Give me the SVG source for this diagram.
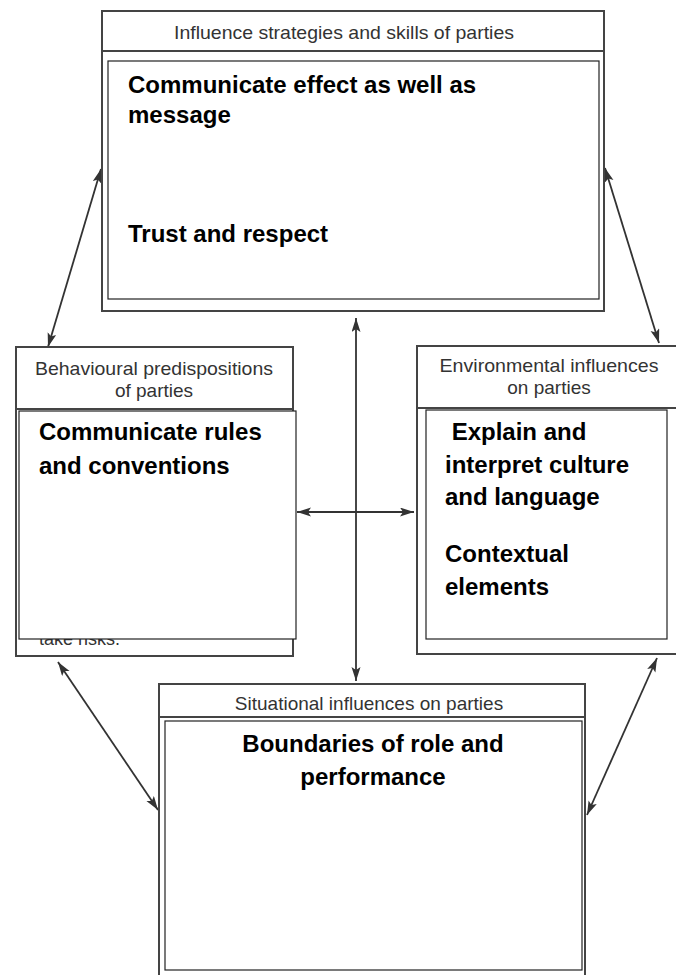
<svg xmlns="http://www.w3.org/2000/svg" width="676" height="975" viewBox="0 0 676 975">
<style>
.outer{fill:#fff;stroke:#444;stroke-width:2}
.sep{stroke:#444;stroke-width:2;fill:none}
.inner{fill:#fff;stroke:#222;stroke-width:1.2}
.title{font-family:"Liberation Sans",Arial,sans-serif;font-size:19px;fill:#333;text-anchor:middle}
.scan{font-family:"Liberation Sans",Arial,sans-serif;font-size:18px;fill:#333}
.body{font-family:"Liberation Sans",Arial,sans-serif;font-size:24px;font-weight:bold;fill:#000}
.conn{stroke:#333;stroke-width:1.8;fill:none;marker-start:url(#ah);marker-end:url(#ah)}
</style>
<defs>
<marker id="ah" markerUnits="userSpaceOnUse" markerWidth="16" markerHeight="10" refX="14" refY="4.5" orient="auto-start-reverse">
<path d="M0,0 L14,4.5 L0,9 L3,4.5 z" fill="#333"/>
</marker>
</defs>
<rect width="676" height="975" fill="#fff"/>

<g id="connectors">
<line class="conn" x1="356" y1="318" x2="356" y2="681"/>
<line class="conn" x1="297" y1="512" x2="414" y2="512"/>
<line class="conn" x1="101" y1="169" x2="48" y2="347"/>
<line class="conn" x1="605" y1="168" x2="659" y2="343"/>
<line class="conn" x1="58" y1="662" x2="158" y2="810"/>
<line class="conn" x1="657" y1="658" x2="587" y2="815"/>
</g>

<g id="node-influence">
<rect class="outer" x="102" y="11" width="502" height="300"/>
<line class="sep" x1="102" y1="51" x2="604" y2="51"/>
<text class="title" x="344" y="39" textLength="340" lengthAdjust="spacingAndGlyphs">Influence strategies and skills of parties</text>
<rect class="inner" x="108" y="61" width="491" height="238"/>
<text class="body" x="128" y="93">Communicate effect as well as</text>
<text class="body" x="128" y="123">message</text>
<text class="body" x="128" y="242">Trust and respect</text>
</g>

<g id="node-behavioural">
<rect class="outer" x="16" y="347" width="277" height="309"/>
<line class="sep" x1="16" y1="409" x2="293" y2="409"/>
<text class="title" x="154" y="375" textLength="238" lengthAdjust="spacingAndGlyphs">Behavioural predispositions</text>
<text class="title" x="154" y="397">of parties</text>
<text class="scan" x="39" y="645">take risks.</text>
<rect class="inner" x="19" y="411" width="277" height="228"/>
<text class="body" x="39" y="440">Communicate rules</text>
<text class="body" x="39" y="474">and conventions</text>
</g>

<g id="node-environmental">
<rect class="outer" x="417" y="346" width="270" height="308"/>
<line class="sep" x1="417" y1="408" x2="687" y2="408"/>
<text class="title" x="549" y="372" textLength="219" lengthAdjust="spacingAndGlyphs">Environmental influences</text>
<text class="title" x="549" y="394">on parties</text>
<rect class="inner" x="426" y="410" width="241" height="229"/>
<text class="body" x="445" y="440" xml:space="preserve"> Explain and</text>
<text class="body" x="445" y="473">interpret culture</text>
<text class="body" x="445" y="505">and language</text>
<text class="body" x="445" y="562">Contextual</text>
<text class="body" x="445" y="595">elements</text>
</g>

<g id="node-situational">
<rect class="outer" x="159" y="684" width="426" height="300"/>
<line class="sep" x1="159" y1="717" x2="585" y2="717"/>
<text class="title" x="369" y="710">Situational influences on parties</text>
<rect class="inner" x="165" y="721" width="417" height="249"/>
<text class="body" x="373" y="752" text-anchor="middle">Boundaries of role and</text>
<text class="body" x="373" y="785" text-anchor="middle">performance</text>
</g>
</svg>
